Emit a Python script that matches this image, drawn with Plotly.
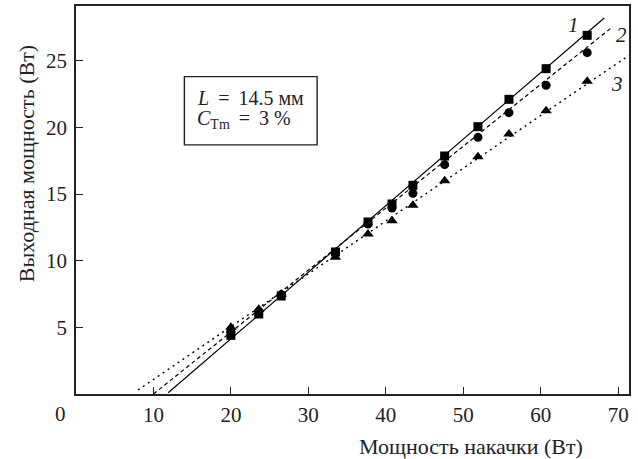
import plotly.graph_objects as go

# Data
pump_power = [20.0, 23.6, 26.5, 33.5, 37.7, 40.8, 43.5, 47.6, 51.9, 55.9, 60.7, 66.0]
out_1 = [4.4, 6.0, 7.35, 10.65, 12.9, 14.25, 15.65, 17.85, 20.05, 22.1, 24.4, 26.9]
out_2 = [4.7, 6.2, 7.45, 10.6, 12.75, 13.95, 15.05, 17.2, 19.25, 21.1, 23.15, 25.6]
out_3 = [5.0, 6.35, 7.5, 10.25, 12.0, 13.0, 14.15, 16.0, 17.8, 19.5, 21.25, 23.45]

# fitted straight lines (end points)
fit1_x = [11.9, 68.2]
fit1_y = [0.1, 28.2]
fit2_x = [10.0, 69.3]
fit2_y = [0.0, 27.55]
fit3_x = [8.0, 71.4]
fit3_y = [0.3, 25.4]

x_ticks = [10, 20, 30, 40, 50, 60, 70]
y_ticks = [5, 10, 15, 20, 25]

FONT = "Liberation Serif, Times New Roman, serif"
INK = "#222"

fig = go.Figure()
fig.add_trace(go.Scatter(x=fit1_x, y=fit1_y, mode="lines",
                         line=dict(color="black", width=1.2)))
fig.add_trace(go.Scatter(x=fit2_x, y=fit2_y, mode="lines",
                         line=dict(color="black", width=1.2, dash="4px,3px")))
fig.add_trace(go.Scatter(x=fit3_x, y=fit3_y, mode="lines",
                         line=dict(color="black", width=1.4, dash="2px,4px")))
fig.add_trace(go.Scatter(x=pump_power, y=out_3, mode="markers",
                         marker=dict(symbol="triangle-up", size=10, color="black")))
fig.add_trace(go.Scatter(x=pump_power, y=out_2, mode="markers",
                         marker=dict(symbol="circle", size=9, color="black")))
fig.add_trace(go.Scatter(x=pump_power, y=out_1, mode="markers",
                         marker=dict(symbol="square", size=9, color="black")))

axis_common = dict(
    showgrid=False, zeroline=False, showline=True, mirror=True,
    linecolor=INK, linewidth=1.6, ticks="inside", ticklen=7,
    tickwidth=1.4, tickcolor=INK,
    tickfont=dict(family=FONT, size=21, color=INK),
)

fig.update_layout(
    width=638, height=459,
    margin=dict(l=76, r=9, t=4, b=65),
    paper_bgcolor="white", plot_bgcolor="white",
    showlegend=False,
    font=dict(family=FONT, color=INK),
    xaxis=dict(range=[0, 71.4], tickvals=x_ticks, ticklabelstandoff=1, **axis_common),
    yaxis=dict(range=[0, 29.1], tickvals=y_ticks, ticklabelstandoff=3, **axis_common),
)

def note(text, x, y, ref="paper", size=21, xanchor="center", angle=0):
    return dict(text=text, x=x, y=y, xref=ref if ref == "paper" else "x",
                yref=ref if ref == "paper" else "y", showarrow=False,
                xanchor=xanchor, yanchor="middle", textangle=angle,
                font=dict(size=size, family=FONT, color=INK))

annots = [
    note("Мощность накачки (Вт)", 0.714, -0.1346, size=22),
    note("Выходная мощность (Вт)", -0.088, 0.593, size=22, angle=-90),
    note("0", -0.0284, -0.0507, size=21),
    note("<i>1</i>", 64.2, 27.65, ref="data", size=21),
    note("<i>2</i>", 70.4, 26.9, ref="data", size=21),
    note("<i>3</i>", 69.8, 23.25, ref="data", size=21),
    note("<i>L</i> \u2009=\u2009 14.5 мм", 0.2155, 0.762, size=20, xanchor="left"),
    note("<i>C</i><sub>Tm</sub> \u2009=\u2009 3 %", 0.2155, 0.707, size=20, xanchor="left"),
]
fig.update_layout(annotations=annots)
fig.add_shape(type="rect", xref="paper", yref="paper", x0=0.196, x1=0.436, y0=0.642, y1=0.818,
              line=dict(color=INK, width=1.4))

fig.write_html("out.html")
